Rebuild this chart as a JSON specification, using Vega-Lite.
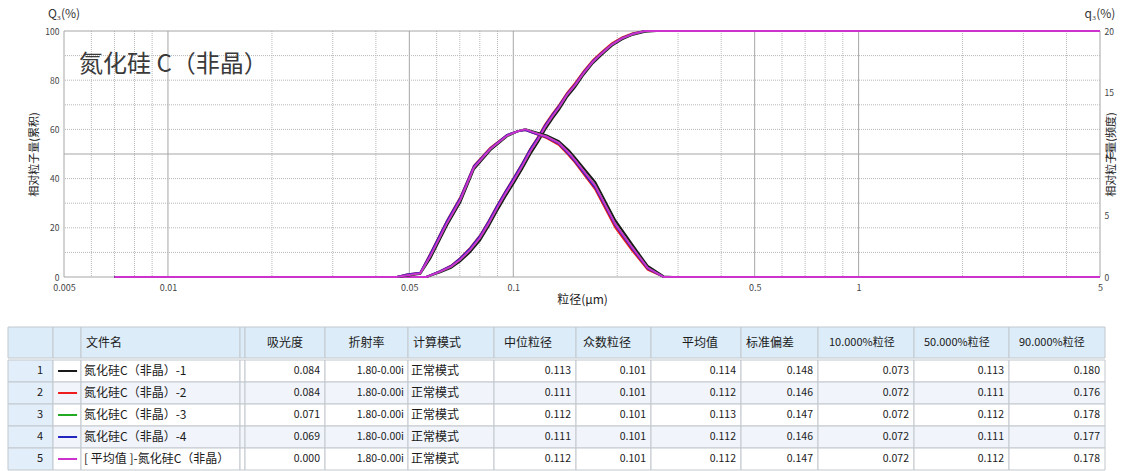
{
  "$schema": "https://vega.github.io/schema/vega-lite/v6.json",
  "background": "white",
  "padding": {"left": 7, "top": 8, "right": 0, "bottom": 0},
  "config": {
    "view": {"stroke": null},
    "legend": {"disable": true},
    "font": "Noto Sans CJK SC"
  },
  "datasets": {
    "vgrid": [
      {"d": 0.005, "k": "solid"}, {"d": 0.006, "k": "dot"}, {"d": 0.007, "k": "dot"}, {"d": 0.008, "k": "dot"}, {"d": 0.009, "k": "dot"},
      {"d": 0.01, "k": "solid"}, {"d": 0.02, "k": "dot"}, {"d": 0.03, "k": "dot"}, {"d": 0.04, "k": "dot"},
      {"d": 0.05, "k": "solid"}, {"d": 0.06, "k": "dot"}, {"d": 0.07, "k": "dot"}, {"d": 0.08, "k": "dot"}, {"d": 0.09, "k": "dot"},
      {"d": 0.1, "k": "solid"}, {"d": 0.2, "k": "dot"}, {"d": 0.3, "k": "dot"}, {"d": 0.4, "k": "dot"},
      {"d": 0.5, "k": "solid"}, {"d": 0.6, "k": "dot"}, {"d": 0.7, "k": "dot"}, {"d": 0.8, "k": "dot"}, {"d": 0.9, "k": "dot"},
      {"d": 1, "k": "solid"}, {"d": 2, "k": "dot"}, {"d": 3, "k": "dot"}, {"d": 4, "k": "dot"},
      {"d": 5, "k": "solid"}
    ],
    "hgrid": [
      {"value": 0, "k": "solid"}, {"value": 10, "k": "dot"}, {"value": 20, "k": "dot"}, {"value": 30, "k": "dot"}, {"value": 40, "k": "dot"},
      {"value": 50, "k": "solid"}, {"value": 60, "k": "dot"}, {"value": 70, "k": "dot"}, {"value": 80, "k": "dot"}, {"value": 90, "k": "dot"},
      {"value": 100, "k": "solid"}
    ],
    "labels": [
      {"t": "氮化硅 C（非晶）"}
    ],
    "cum": [
      {"d": 0.007, "s1": 0, "s2": 0, "s3": 0, "s4": 0, "s5": 0},
      {"d": 0.056, "s1": 0, "s2": 0, "s3": 0, "s4": 0, "s5": 0},
      {"d": 0.0614, "s1": 1.9, "s2": 2.4, "s3": 2.2, "s4": 2.4, "s5": 2.2},
      {"d": 0.066, "s1": 3.7, "s2": 4.6, "s3": 4.2, "s4": 4.5, "s5": 4.2},
      {"d": 0.0701, "s1": 6.3, "s2": 7.6, "s3": 7.0, "s4": 7.5, "s5": 7.0},
      {"d": 0.075, "s1": 10.1, "s2": 11.8, "s3": 11.0, "s4": 11.6, "s5": 11.0},
      {"d": 0.0801, "s1": 14.9, "s2": 16.9, "s3": 16.0, "s4": 16.7, "s5": 16.0},
      {"d": 0.085, "s1": 20.8, "s2": 23.0, "s3": 22.0, "s4": 22.8, "s5": 22.0},
      {"d": 0.0897, "s1": 26.8, "s2": 29.0, "s3": 28.0, "s4": 28.8, "s5": 28.0},
      {"d": 0.095, "s1": 32.8, "s2": 35.0, "s3": 34.0, "s4": 34.8, "s5": 34.0},
      {"d": 0.1005, "s1": 38.3, "s2": 40.5, "s3": 39.5, "s4": 40.3, "s5": 39.5},
      {"d": 0.106, "s1": 43.8, "s2": 46.0, "s3": 45.0, "s4": 45.8, "s5": 45.0},
      {"d": 0.1119, "s1": 49.8, "s2": 52.0, "s3": 51.0, "s4": 51.8, "s5": 51.0},
      {"d": 0.118, "s1": 54.9, "s2": 57.0, "s3": 56.0, "s4": 56.7, "s5": 56.0},
      {"d": 0.1236, "s1": 59.9, "s2": 62.0, "s3": 61.0, "s4": 61.6, "s5": 61.0},
      {"d": 0.13, "s1": 64.5, "s2": 66.4, "s3": 65.5, "s4": 66.0, "s5": 65.5},
      {"d": 0.1357, "s1": 68.0, "s2": 69.9, "s3": 69.0, "s4": 69.5, "s5": 69.0},
      {"d": 0.143, "s1": 73.1, "s2": 74.8, "s3": 74.0, "s4": 74.4, "s5": 74.0},
      {"d": 0.151, "s1": 77.2, "s2": 78.8, "s3": 78.0, "s4": 78.3, "s5": 78.0},
      {"d": 0.16, "s1": 82.3, "s2": 83.7, "s3": 83.0, "s4": 83.3, "s5": 83.0},
      {"d": 0.17, "s1": 86.9, "s2": 88.1, "s3": 87.5, "s4": 87.7, "s5": 87.5},
      {"d": 0.1807, "s1": 90.4, "s2": 91.6, "s3": 91.0, "s4": 91.2, "s5": 91.0},
      {"d": 0.193, "s1": 94.0, "s2": 95.0, "s3": 94.5, "s4": 94.6, "s5": 94.5},
      {"d": 0.2065, "s1": 96.6, "s2": 97.4, "s3": 97.0, "s4": 97.1, "s5": 97.0},
      {"d": 0.222, "s1": 98.5, "s2": 99.1, "s3": 98.8, "s4": 98.9, "s5": 98.8},
      {"d": 0.2407, "s1": 99.7, "s2": 100, "s3": 100, "s4": 100, "s5": 100},
      {"d": 0.26, "s1": 100, "s2": 100, "s3": 100, "s4": 100, "s5": 100},
      {"d": 5, "s1": 100, "s2": 100, "s3": 100, "s4": 100, "s5": 100}
    ],
    "freq": [
      {"d": 0.007, "s1": 0, "s2": 0, "s3": 0, "s4": 0, "s5": 0},
      {"d": 0.046, "s1": 0, "s2": 0, "s3": 0, "s4": 0, "s5": 0},
      {"d": 0.0492, "s1": 0.1, "s2": 0.2, "s3": 0.15, "s4": 0.2, "s5": 0.15},
      {"d": 0.0538, "s1": 0.25, "s2": 0.35, "s3": 0.3, "s4": 0.35, "s5": 0.3},
      {"d": 0.0575, "s1": 1.5, "s2": 1.9, "s3": 1.7, "s4": 1.85, "s5": 1.7},
      {"d": 0.0643, "s1": 4.2, "s2": 4.6, "s3": 4.4, "s4": 4.55, "s5": 4.4},
      {"d": 0.0703, "s1": 6.1, "s2": 6.5, "s3": 6.3, "s4": 6.45, "s5": 6.3},
      {"d": 0.0769, "s1": 8.75, "s2": 9.05, "s3": 8.9, "s4": 9.0, "s5": 8.9},
      {"d": 0.0858, "s1": 10.3, "s2": 10.5, "s3": 10.4, "s4": 10.45, "s5": 10.4},
      {"d": 0.096, "s1": 11.45, "s2": 11.55, "s3": 11.5, "s4": 11.55, "s5": 11.5},
      {"d": 0.103, "s1": 11.85, "s2": 11.85, "s3": 11.85, "s4": 11.85, "s5": 11.85},
      {"d": 0.1084, "s1": 12.0, "s2": 11.95, "s3": 12.0, "s4": 11.95, "s5": 12.0},
      {"d": 0.1134, "s1": 11.85, "s2": 11.75, "s3": 11.8, "s4": 11.75, "s5": 11.8},
      {"d": 0.125, "s1": 11.5, "s2": 11.3, "s3": 11.4, "s4": 11.35, "s5": 11.4},
      {"d": 0.1354, "s1": 11.05, "s2": 10.75, "s3": 10.9, "s4": 10.85, "s5": 10.9},
      {"d": 0.1447, "s1": 10.3, "s2": 9.9, "s3": 10.1, "s4": 10.0, "s5": 10.1},
      {"d": 0.151, "s1": 9.7, "s2": 9.3, "s3": 9.5, "s4": 9.4, "s5": 9.5},
      {"d": 0.1729, "s1": 7.7, "s2": 7.1, "s3": 7.4, "s4": 7.25, "s5": 7.4},
      {"d": 0.1975, "s1": 4.6, "s2": 4.0, "s3": 4.3, "s4": 4.2, "s5": 4.3},
      {"d": 0.221, "s1": 2.65, "s2": 2.15, "s3": 2.4, "s4": 2.3, "s5": 2.4},
      {"d": 0.245, "s1": 0.9, "s2": 0.6, "s3": 0.75, "s4": 0.7, "s5": 0.75},
      {"d": 0.2727, "s1": 0.05, "s2": 0, "s3": 0, "s4": 0, "s5": 0},
      {"d": 0.29, "s1": 0, "s2": 0, "s3": 0, "s4": 0, "s5": 0},
      {"d": 5, "s1": 0, "s2": 0, "s3": 0, "s4": 0, "s5": 0}
    ],
    "table": [
      {"no": "1", "series": "s1", "name": "氮化硅C（非晶）-1", "abs": 0.084, "ri": "1.80-0.00i", "calc": "正常模式", "median": 0.113, "modal": 0.101, "mean": 0.114, "sd": 0.148, "d10": 0.073, "d50": 0.113, "d90": 0.180},
      {"no": "2", "series": "s2", "name": "氮化硅C（非晶）-2", "abs": 0.084, "ri": "1.80-0.00i", "calc": "正常模式", "median": 0.111, "modal": 0.101, "mean": 0.112, "sd": 0.146, "d10": 0.072, "d50": 0.111, "d90": 0.176},
      {"no": "3", "series": "s3", "name": "氮化硅C（非晶）-3", "abs": 0.071, "ri": "1.80-0.00i", "calc": "正常模式", "median": 0.112, "modal": 0.101, "mean": 0.113, "sd": 0.147, "d10": 0.072, "d50": 0.112, "d90": 0.178},
      {"no": "4", "series": "s4", "name": "氮化硅C（非晶）-4", "abs": 0.069, "ri": "1.80-0.00i", "calc": "正常模式", "median": 0.111, "modal": 0.101, "mean": 0.112, "sd": 0.146, "d10": 0.072, "d50": 0.111, "d90": 0.177},
      {"no": "5", "series": "s5", "name": "[ 平均值 ]-氮化硅C（非晶）", "abs": 0.000, "ri": "1.80-0.00i", "calc": "正常模式", "median": 0.112, "modal": 0.101, "mean": 0.112, "sd": 0.147, "d10": 0.072, "d50": 0.112, "d90": 0.178}
    ]
  },
  "concat": [
    {
      "hconcat": [
        {"width": 20, "height": 10, "data": {"values": [{}]}, "mark": {"type": "text", "text": ""}},
        {
          "width": 1036,
          "height": 246,
          "layer": [
            {
              "data": {"name": "vgrid"},
              "mark": {"type": "rule", "strokeWidth": 1},
              "encoding": {
                "x": {"field": "d", "type": "quantitative", "scale": {"type": "log", "domain": [0.005, 5], "nice": false}},
                "stroke": {"field": "k", "type": "nominal", "scale": {"domain": ["solid", "dot"], "range": ["#a6a6a6", "#b8b8b8"]}, "legend": null},
                "strokeDash": {"field": "k", "type": "nominal", "scale": {"domain": ["solid", "dot"], "range": [[1, 0], [1, 1]]}, "legend": null}
              }
            },
            {
              "data": {"name": "hgrid"},
              "mark": {"type": "rule", "strokeWidth": 1},
              "encoding": {
                "y": {
                  "field": "value", "type": "quantitative",
                  "scale": {"domain": [0, 100], "nice": false},
                  "axis": {"orient": "left", "values": [0, 20, 40, 60, 80, 100], "title": "相对粒子量(累积)", "grid": false, "ticks": false, "domain": false, "labelFlush": false, "labelFontSize": 8.5, "labelColor": "#444", "labelPadding": 5, "titleFontSize": 11, "titleFontWeight": "normal", "titleColor": "#222", "titlePadding": 5}
                },
                "stroke": {"field": "k", "type": "nominal", "scale": {"domain": ["solid", "dot"], "range": ["#a6a6a6", "#b8b8b8"]}, "legend": null},
                "strokeDash": {"field": "k", "type": "nominal", "scale": {"domain": ["solid", "dot"], "range": [[1, 0], [1, 1]]}, "legend": null}
              }
            },
            {
              "data": {"name": "cum"},
              "transform": [{"fold": ["s1", "s2", "s3", "s4", "s5"], "as": ["series", "value"]}],
              "mark": {"type": "line", "strokeWidth": 2},
              "encoding": {
                "x": {
                  "field": "d", "type": "quantitative",
                  "scale": {"type": "log", "domain": [0.005, 5], "nice": false},
                  "axis": {"values": [0.005, 0.01, 0.05, 0.1, 0.5, 1, 5], "format": "~g", "title": "粒径(μm)", "grid": false, "ticks": false, "domain": false, "labelFlush": false, "labelFontSize": 9, "labelColor": "#444", "labelPadding": 6, "titleFontSize": 12, "titleFontWeight": "normal", "titleColor": "#222", "titlePadding": 2}
                },
                "y": {"field": "value", "type": "quantitative", "scale": {"domain": [0, 100], "nice": false}, "axis": null},
                "color": {"field": "series", "type": "nominal", "scale": {"domain": ["s1", "s2", "s3", "s4", "s5"], "range": ["#1a1a1a", "#ee1c1c", "#22aa22", "#2424c0", "#cc33cc"]}, "legend": null}
              }
            },
            {
              "data": {"name": "freq"},
              "transform": [{"fold": ["s1", "s2", "s3", "s4", "s5"], "as": ["series", "value"]}],
              "mark": {"type": "line", "strokeWidth": 2},
              "encoding": {
                "x": {"field": "d", "type": "quantitative", "scale": {"type": "log", "domain": [0.005, 5], "nice": false}},
                "y": {
                  "field": "value", "type": "quantitative",
                  "scale": {"domain": [0, 20], "nice": false},
                  "axis": {"orient": "right", "values": [0, 5, 10, 15, 20], "title": "相对粒子量(频度)", "grid": false, "ticks": false, "domain": false, "labelFlush": false, "labelFontSize": 8.5, "labelColor": "#444", "labelPadding": 4, "titleFontSize": 11, "titleFontWeight": "normal", "titleColor": "#222", "titlePadding": 3, "titleAngle": 270}
                },
                "color": {"field": "series", "type": "nominal", "scale": {"domain": ["s1", "s2", "s3", "s4", "s5"], "range": ["#1a1a1a", "#ee1c1c", "#22aa22", "#2424c0", "#cc33cc"]}, "legend": null}
              }
            },
            {
              "data": {"name": "labels"},
              "mark": {"type": "text", "align": "left", "baseline": "middle", "fontSize": 24, "color": "#3a3a3a"},
              "encoding": {
                "x": {"datum": 0.00553, "type": "quantitative", "scale": {"type": "log", "domain": [0.005, 5], "nice": false}},
                "y": {"datum": 86, "type": "quantitative", "scale": {"domain": [0, 100], "nice": false}, "axis": null},
                "text": {"field": "t"}
              }
            },
            {
              "data": {"name": "labels"},
              "mark": {"type": "text", "text": "Q₃(%)", "align": "center", "baseline": "middle", "dy": -17, "fontSize": 12, "color": "#333"},
              "encoding": {
                "x": {"datum": 0.005, "type": "quantitative", "scale": {"type": "log", "domain": [0.005, 5], "nice": false}},
                "y": {"datum": 100, "type": "quantitative", "scale": {"domain": [0, 100], "nice": false}, "axis": null}
              }
            },
            {
              "data": {"name": "labels"},
              "mark": {"type": "text", "text": "q₃(%)", "align": "center", "baseline": "middle", "dy": -17, "fontSize": 12, "color": "#333"},
              "encoding": {
                "x": {"datum": 5, "type": "quantitative", "scale": {"type": "log", "domain": [0.005, 5], "nice": false}},
                "y": {"datum": 100, "type": "quantitative", "scale": {"domain": [0, 100], "nice": false}, "axis": null}
              }
            }
          ],
          "resolve": {"scale": {"y": "independent"}}
        }
      ],
      "spacing": 0,
      "resolve": {"scale": {"x": "independent", "y": "independent"}}
    },
    {
      "vconcat": [
        {
          "hconcat": [
            {"width": 45, "height": 31, "data": {"values": [{}]}, "mark": {"type": "rect", "fill": "#dcecf8", "stroke": "#c2c8ce"}, "encoding": {"x": {"datum": 0, "scale": {"domain": [0, 1], "nice": false}, "axis": null}, "x2": {"datum": 1}, "y": {"datum": 0, "scale": {"domain": [0, 1], "nice": false}, "axis": null}, "y2": {"datum": 1}}},
            {"width": 28, "height": 31, "data": {"values": [{}]}, "mark": {"type": "rect", "fill": "#dcecf8", "stroke": "#c2c8ce"}, "encoding": {"x": {"datum": 0, "scale": {"domain": [0, 1], "nice": false}, "axis": null}, "x2": {"datum": 1}, "y": {"datum": 0, "scale": {"domain": [0, 1], "nice": false}, "axis": null}, "y2": {"datum": 1}}},
            {"width": 159, "height": 31, "data": {"values": [{"t": "文件名"}]}, "layer": [
              {"mark": {"type": "rect", "fill": "#dcecf8", "stroke": "#c2c8ce"}, "encoding": {"x": {"datum": 0, "scale": {"domain": [0, 1], "nice": false}, "axis": null}, "x2": {"datum": 1}, "y": {"datum": 0, "scale": {"domain": [0, 1], "nice": false}, "axis": null}, "y2": {"datum": 1}}},
              {"mark": {"type": "text", "align": "left", "dx": 5, "fontSize": 12, "color": "#1a1a1a"}, "encoding": {"x": {"datum": 0}, "y": {"datum": 0.5}, "text": {"field": "t"}}}
            ]},
            {"width": 5, "height": 31, "data": {"values": [{}]}, "mark": {"type": "rect", "fill": "#dcecf8", "stroke": "#c2c8ce"}, "encoding": {"x": {"datum": 0, "scale": {"domain": [0, 1], "nice": false}, "axis": null}, "x2": {"datum": 1}, "y": {"datum": 0, "scale": {"domain": [0, 1], "nice": false}, "axis": null}, "y2": {"datum": 1}}},
            {"width": 80, "height": 31, "data": {"values": [{"t": "吸光度"}]}, "layer": [
              {"mark": {"type": "rect", "fill": "#dcecf8", "stroke": "#c2c8ce"}, "encoding": {"x": {"datum": 0, "scale": {"domain": [0, 1], "nice": false}, "axis": null}, "x2": {"datum": 1}, "y": {"datum": 0, "scale": {"domain": [0, 1], "nice": false}, "axis": null}, "y2": {"datum": 1}}},
              {"mark": {"type": "text", "align": "center", "fontSize": 12, "color": "#1a1a1a"}, "encoding": {"x": {"datum": 0.5}, "y": {"datum": 0.5}, "text": {"field": "t"}}}
            ]},
            {"width": 83, "height": 31, "data": {"values": [{"t": "折射率"}]}, "layer": [
              {"mark": {"type": "rect", "fill": "#dcecf8", "stroke": "#c2c8ce"}, "encoding": {"x": {"datum": 0, "scale": {"domain": [0, 1], "nice": false}, "axis": null}, "x2": {"datum": 1}, "y": {"datum": 0, "scale": {"domain": [0, 1], "nice": false}, "axis": null}, "y2": {"datum": 1}}},
              {"mark": {"type": "text", "align": "center", "fontSize": 12, "color": "#1a1a1a"}, "encoding": {"x": {"datum": 0.5}, "y": {"datum": 0.5}, "text": {"field": "t"}}}
            ]},
            {"width": 86, "height": 31, "data": {"values": [{"t": "计算模式"}]}, "layer": [
              {"mark": {"type": "rect", "fill": "#dcecf8", "stroke": "#c2c8ce"}, "encoding": {"x": {"datum": 0, "scale": {"domain": [0, 1], "nice": false}, "axis": null}, "x2": {"datum": 1}, "y": {"datum": 0, "scale": {"domain": [0, 1], "nice": false}, "axis": null}, "y2": {"datum": 1}}},
              {"mark": {"type": "text", "align": "left", "dx": 5, "fontSize": 12, "color": "#1a1a1a"}, "encoding": {"x": {"datum": 0}, "y": {"datum": 0.5}, "text": {"field": "t"}}}
            ]},
            {"width": 82, "height": 31, "data": {"values": [{"t": "中位粒径"}]}, "layer": [
              {"mark": {"type": "rect", "fill": "#dcecf8", "stroke": "#c2c8ce"}, "encoding": {"x": {"datum": 0, "scale": {"domain": [0, 1], "nice": false}, "axis": null}, "x2": {"datum": 1}, "y": {"datum": 0, "scale": {"domain": [0, 1], "nice": false}, "axis": null}, "y2": {"datum": 1}}},
              {"mark": {"type": "text", "align": "left", "dx": 10, "fontSize": 12, "color": "#1a1a1a"}, "encoding": {"x": {"datum": 0}, "y": {"datum": 0.5}, "text": {"field": "t"}}}
            ]},
            {"width": 75, "height": 31, "data": {"values": [{"t": "众数粒径"}]}, "layer": [
              {"mark": {"type": "rect", "fill": "#dcecf8", "stroke": "#c2c8ce"}, "encoding": {"x": {"datum": 0, "scale": {"domain": [0, 1], "nice": false}, "axis": null}, "x2": {"datum": 1}, "y": {"datum": 0, "scale": {"domain": [0, 1], "nice": false}, "axis": null}, "y2": {"datum": 1}}},
              {"mark": {"type": "text", "align": "left", "dx": 7, "fontSize": 12, "color": "#1a1a1a"}, "encoding": {"x": {"datum": 0}, "y": {"datum": 0.5}, "text": {"field": "t"}}}
            ]},
            {"width": 90, "height": 31, "data": {"values": [{"t": "平均值"}]}, "layer": [
              {"mark": {"type": "rect", "fill": "#dcecf8", "stroke": "#c2c8ce"}, "encoding": {"x": {"datum": 0, "scale": {"domain": [0, 1], "nice": false}, "axis": null}, "x2": {"datum": 1}, "y": {"datum": 0, "scale": {"domain": [0, 1], "nice": false}, "axis": null}, "y2": {"datum": 1}}},
              {"mark": {"type": "text", "align": "center", "dx": 4, "fontSize": 12, "color": "#1a1a1a"}, "encoding": {"x": {"datum": 0.5}, "y": {"datum": 0.5}, "text": {"field": "t"}}}
            ]},
            {"width": 77, "height": 31, "data": {"values": [{"t": "标准偏差"}]}, "layer": [
              {"mark": {"type": "rect", "fill": "#dcecf8", "stroke": "#c2c8ce"}, "encoding": {"x": {"datum": 0, "scale": {"domain": [0, 1], "nice": false}, "axis": null}, "x2": {"datum": 1}, "y": {"datum": 0, "scale": {"domain": [0, 1], "nice": false}, "axis": null}, "y2": {"datum": 1}}},
              {"mark": {"type": "text", "align": "left", "dx": 5, "fontSize": 12, "color": "#1a1a1a"}, "encoding": {"x": {"datum": 0}, "y": {"datum": 0.5}, "text": {"field": "t"}}}
            ]},
            {"width": 96, "height": 31, "data": {"values": [{"t": "10.000%粒径"}]}, "layer": [
              {"mark": {"type": "rect", "fill": "#dcecf8", "stroke": "#c2c8ce"}, "encoding": {"x": {"datum": 0, "scale": {"domain": [0, 1], "nice": false}, "axis": null}, "x2": {"datum": 1}, "y": {"datum": 0, "scale": {"domain": [0, 1], "nice": false}, "axis": null}, "y2": {"datum": 1}}},
              {"mark": {"type": "text", "align": "left", "dx": 11, "fontSize": 11, "color": "#1a1a1a"}, "encoding": {"x": {"datum": 0}, "y": {"datum": 0.5}, "text": {"field": "t"}}}
            ]},
            {"width": 95, "height": 31, "data": {"values": [{"t": "50.000%粒径"}]}, "layer": [
              {"mark": {"type": "rect", "fill": "#dcecf8", "stroke": "#c2c8ce"}, "encoding": {"x": {"datum": 0, "scale": {"domain": [0, 1], "nice": false}, "axis": null}, "x2": {"datum": 1}, "y": {"datum": 0, "scale": {"domain": [0, 1], "nice": false}, "axis": null}, "y2": {"datum": 1}}},
              {"mark": {"type": "text", "align": "left", "dx": 10, "fontSize": 11, "color": "#1a1a1a"}, "encoding": {"x": {"datum": 0}, "y": {"datum": 0.5}, "text": {"field": "t"}}}
            ]},
            {"width": 96, "height": 31, "data": {"values": [{"t": "90.000%粒径"}]}, "layer": [
              {"mark": {"type": "rect", "fill": "#dcecf8", "stroke": "#c2c8ce"}, "encoding": {"x": {"datum": 0, "scale": {"domain": [0, 1], "nice": false}, "axis": null}, "x2": {"datum": 1}, "y": {"datum": 0, "scale": {"domain": [0, 1], "nice": false}, "axis": null}, "y2": {"datum": 1}}},
              {"mark": {"type": "text", "align": "left", "dx": 10, "fontSize": 11, "color": "#1a1a1a"}, "encoding": {"x": {"datum": 0}, "y": {"datum": 0.5}, "text": {"field": "t"}}}
            ]}
          ],
          "spacing": 0,
          "bounds": "flush",
          "resolve": {"scale": {"x": "independent", "y": "independent"}}
        },
        {
          "hconcat": [
            {"width": 45, "height": 110, "data": {"name": "table"}, "encoding": {"y": {"field": "no", "type": "ordinal", "axis": null, "scale": {"paddingInner": 0, "paddingOuter": 0}}}, "layer": [
              {"mark": {"type": "rect", "fill": "#e2eef9", "stroke": "#c2c8ce"}, "encoding": {"x": {"datum": 0, "scale": {"domain": [0, 1], "nice": false}, "axis": null}, "x2": {"datum": 1}}},
              {"mark": {"type": "text", "align": "right", "dx": -10, "fontSize": 11, "color": "#1a1a1a"}, "encoding": {"x": {"datum": 1}, "text": {"field": "no"}}}
            ]},
            {"width": 28, "height": 110, "data": {"name": "table"}, "encoding": {"y": {"field": "no", "type": "ordinal", "axis": null, "scale": {"paddingInner": 0, "paddingOuter": 0}}}, "layer": [
              {"mark": {"type": "rect", "stroke": "#c2c8ce"}, "encoding": {"x": {"datum": 0, "scale": {"domain": [0, 1], "nice": false}, "axis": null}, "x2": {"datum": 1}, "fill": {"field": "no", "type": "nominal", "scale": {"domain": ["1", "2", "3", "4", "5"], "range": ["#ffffff", "#f1f5fb", "#ffffff", "#f1f5fb", "#ffffff"]}, "legend": null}}},
              {"mark": {"type": "rule", "strokeWidth": 2}, "encoding": {"x": {"datum": 0.18}, "x2": {"datum": 0.86}, "color": {"field": "series", "type": "nominal", "scale": {"domain": ["s1", "s2", "s3", "s4", "s5"], "range": ["#1a1a1a", "#ee1c1c", "#22aa22", "#2424c0", "#cc33cc"]}, "legend": null}}}
            ]},
            {"width": 159, "height": 110, "data": {"name": "table"}, "encoding": {"y": {"field": "no", "type": "ordinal", "axis": null, "scale": {"paddingInner": 0, "paddingOuter": 0}}}, "layer": [
              {"mark": {"type": "rect", "stroke": "#c2c8ce"}, "encoding": {"x": {"datum": 0, "scale": {"domain": [0, 1], "nice": false}, "axis": null}, "x2": {"datum": 1}, "fill": {"field": "no", "type": "nominal", "scale": {"domain": ["1", "2", "3", "4", "5"], "range": ["#ffffff", "#f1f5fb", "#ffffff", "#f1f5fb", "#ffffff"]}, "legend": null}}},
              {"mark": {"type": "text", "align": "left", "dx": 3, "fontSize": 12, "color": "#1a1a1a"}, "encoding": {"x": {"datum": 0}, "text": {"field": "name"}}}
            ]},
            {"width": 5, "height": 110, "data": {"name": "table"}, "encoding": {"y": {"field": "no", "type": "ordinal", "axis": null, "scale": {"paddingInner": 0, "paddingOuter": 0}}}, "layer": [
              {"mark": {"type": "rect", "stroke": "#c2c8ce"}, "encoding": {"x": {"datum": 0, "scale": {"domain": [0, 1], "nice": false}, "axis": null}, "x2": {"datum": 1}, "fill": {"field": "no", "type": "nominal", "scale": {"domain": ["1", "2", "3", "4", "5"], "range": ["#ffffff", "#f1f5fb", "#ffffff", "#f1f5fb", "#ffffff"]}, "legend": null}}}
            ]},
            {"width": 80, "height": 110, "data": {"name": "table"}, "encoding": {"y": {"field": "no", "type": "ordinal", "axis": null, "scale": {"paddingInner": 0, "paddingOuter": 0}}}, "layer": [
              {"mark": {"type": "rect", "stroke": "#c2c8ce"}, "encoding": {"x": {"datum": 0, "scale": {"domain": [0, 1], "nice": false}, "axis": null}, "x2": {"datum": 1}, "fill": {"field": "no", "type": "nominal", "scale": {"domain": ["1", "2", "3", "4", "5"], "range": ["#ffffff", "#f1f5fb", "#ffffff", "#f1f5fb", "#ffffff"]}, "legend": null}}},
              {"mark": {"type": "text", "align": "right", "dx": -5, "fontSize": 10.5, "color": "#1a1a1a"}, "encoding": {"x": {"datum": 1}, "text": {"field": "abs", "type": "quantitative", "format": ".3f"}}}
            ]},
            {"width": 83, "height": 110, "data": {"name": "table"}, "encoding": {"y": {"field": "no", "type": "ordinal", "axis": null, "scale": {"paddingInner": 0, "paddingOuter": 0}}}, "layer": [
              {"mark": {"type": "rect", "stroke": "#c2c8ce"}, "encoding": {"x": {"datum": 0, "scale": {"domain": [0, 1], "nice": false}, "axis": null}, "x2": {"datum": 1}, "fill": {"field": "no", "type": "nominal", "scale": {"domain": ["1", "2", "3", "4", "5"], "range": ["#ffffff", "#f1f5fb", "#ffffff", "#f1f5fb", "#ffffff"]}, "legend": null}}},
              {"mark": {"type": "text", "align": "right", "dx": -4, "fontSize": 10.5, "color": "#1a1a1a"}, "encoding": {"x": {"datum": 1}, "text": {"field": "ri"}}}
            ]},
            {"width": 86, "height": 110, "data": {"name": "table"}, "encoding": {"y": {"field": "no", "type": "ordinal", "axis": null, "scale": {"paddingInner": 0, "paddingOuter": 0}}}, "layer": [
              {"mark": {"type": "rect", "stroke": "#c2c8ce"}, "encoding": {"x": {"datum": 0, "scale": {"domain": [0, 1], "nice": false}, "axis": null}, "x2": {"datum": 1}, "fill": {"field": "no", "type": "nominal", "scale": {"domain": ["1", "2", "3", "4", "5"], "range": ["#ffffff", "#f1f5fb", "#ffffff", "#f1f5fb", "#ffffff"]}, "legend": null}}},
              {"mark": {"type": "text", "align": "left", "dx": 3, "fontSize": 12, "color": "#1a1a1a"}, "encoding": {"x": {"datum": 0}, "text": {"field": "calc"}}}
            ]},
            {"width": 82, "height": 110, "data": {"name": "table"}, "encoding": {"y": {"field": "no", "type": "ordinal", "axis": null, "scale": {"paddingInner": 0, "paddingOuter": 0}}}, "layer": [
              {"mark": {"type": "rect", "stroke": "#c2c8ce"}, "encoding": {"x": {"datum": 0, "scale": {"domain": [0, 1], "nice": false}, "axis": null}, "x2": {"datum": 1}, "fill": {"field": "no", "type": "nominal", "scale": {"domain": ["1", "2", "3", "4", "5"], "range": ["#ffffff", "#f1f5fb", "#ffffff", "#f1f5fb", "#ffffff"]}, "legend": null}}},
              {"mark": {"type": "text", "align": "right", "dx": -5, "fontSize": 10.5, "color": "#1a1a1a"}, "encoding": {"x": {"datum": 1}, "text": {"field": "median", "type": "quantitative", "format": ".3f"}}}
            ]},
            {"width": 75, "height": 110, "data": {"name": "table"}, "encoding": {"y": {"field": "no", "type": "ordinal", "axis": null, "scale": {"paddingInner": 0, "paddingOuter": 0}}}, "layer": [
              {"mark": {"type": "rect", "stroke": "#c2c8ce"}, "encoding": {"x": {"datum": 0, "scale": {"domain": [0, 1], "nice": false}, "axis": null}, "x2": {"datum": 1}, "fill": {"field": "no", "type": "nominal", "scale": {"domain": ["1", "2", "3", "4", "5"], "range": ["#ffffff", "#f1f5fb", "#ffffff", "#f1f5fb", "#ffffff"]}, "legend": null}}},
              {"mark": {"type": "text", "align": "right", "dx": -5, "fontSize": 10.5, "color": "#1a1a1a"}, "encoding": {"x": {"datum": 1}, "text": {"field": "modal", "type": "quantitative", "format": ".3f"}}}
            ]},
            {"width": 90, "height": 110, "data": {"name": "table"}, "encoding": {"y": {"field": "no", "type": "ordinal", "axis": null, "scale": {"paddingInner": 0, "paddingOuter": 0}}}, "layer": [
              {"mark": {"type": "rect", "stroke": "#c2c8ce"}, "encoding": {"x": {"datum": 0, "scale": {"domain": [0, 1], "nice": false}, "axis": null}, "x2": {"datum": 1}, "fill": {"field": "no", "type": "nominal", "scale": {"domain": ["1", "2", "3", "4", "5"], "range": ["#ffffff", "#f1f5fb", "#ffffff", "#f1f5fb", "#ffffff"]}, "legend": null}}},
              {"mark": {"type": "text", "align": "right", "dx": -5, "fontSize": 10.5, "color": "#1a1a1a"}, "encoding": {"x": {"datum": 1}, "text": {"field": "mean", "type": "quantitative", "format": ".3f"}}}
            ]},
            {"width": 77, "height": 110, "data": {"name": "table"}, "encoding": {"y": {"field": "no", "type": "ordinal", "axis": null, "scale": {"paddingInner": 0, "paddingOuter": 0}}}, "layer": [
              {"mark": {"type": "rect", "stroke": "#c2c8ce"}, "encoding": {"x": {"datum": 0, "scale": {"domain": [0, 1], "nice": false}, "axis": null}, "x2": {"datum": 1}, "fill": {"field": "no", "type": "nominal", "scale": {"domain": ["1", "2", "3", "4", "5"], "range": ["#ffffff", "#f1f5fb", "#ffffff", "#f1f5fb", "#ffffff"]}, "legend": null}}},
              {"mark": {"type": "text", "align": "right", "dx": -5, "fontSize": 10.5, "color": "#1a1a1a"}, "encoding": {"x": {"datum": 1}, "text": {"field": "sd", "type": "quantitative", "format": ".3f"}}}
            ]},
            {"width": 96, "height": 110, "data": {"name": "table"}, "encoding": {"y": {"field": "no", "type": "ordinal", "axis": null, "scale": {"paddingInner": 0, "paddingOuter": 0}}}, "layer": [
              {"mark": {"type": "rect", "stroke": "#c2c8ce"}, "encoding": {"x": {"datum": 0, "scale": {"domain": [0, 1], "nice": false}, "axis": null}, "x2": {"datum": 1}, "fill": {"field": "no", "type": "nominal", "scale": {"domain": ["1", "2", "3", "4", "5"], "range": ["#ffffff", "#f1f5fb", "#ffffff", "#f1f5fb", "#ffffff"]}, "legend": null}}},
              {"mark": {"type": "text", "align": "right", "dx": -5, "fontSize": 10.5, "color": "#1a1a1a"}, "encoding": {"x": {"datum": 1}, "text": {"field": "d10", "type": "quantitative", "format": ".3f"}}}
            ]},
            {"width": 95, "height": 110, "data": {"name": "table"}, "encoding": {"y": {"field": "no", "type": "ordinal", "axis": null, "scale": {"paddingInner": 0, "paddingOuter": 0}}}, "layer": [
              {"mark": {"type": "rect", "stroke": "#c2c8ce"}, "encoding": {"x": {"datum": 0, "scale": {"domain": [0, 1], "nice": false}, "axis": null}, "x2": {"datum": 1}, "fill": {"field": "no", "type": "nominal", "scale": {"domain": ["1", "2", "3", "4", "5"], "range": ["#ffffff", "#f1f5fb", "#ffffff", "#f1f5fb", "#ffffff"]}, "legend": null}}},
              {"mark": {"type": "text", "align": "right", "dx": -5, "fontSize": 10.5, "color": "#1a1a1a"}, "encoding": {"x": {"datum": 1}, "text": {"field": "d50", "type": "quantitative", "format": ".3f"}}}
            ]},
            {"width": 96, "height": 110, "data": {"name": "table"}, "encoding": {"y": {"field": "no", "type": "ordinal", "axis": null, "scale": {"paddingInner": 0, "paddingOuter": 0}}}, "layer": [
              {"mark": {"type": "rect", "stroke": "#c2c8ce"}, "encoding": {"x": {"datum": 0, "scale": {"domain": [0, 1], "nice": false}, "axis": null}, "x2": {"datum": 1}, "fill": {"field": "no", "type": "nominal", "scale": {"domain": ["1", "2", "3", "4", "5"], "range": ["#ffffff", "#f1f5fb", "#ffffff", "#f1f5fb", "#ffffff"]}, "legend": null}}},
              {"mark": {"type": "text", "align": "right", "dx": -5, "fontSize": 10.5, "color": "#1a1a1a"}, "encoding": {"x": {"datum": 1}, "text": {"field": "d90", "type": "quantitative", "format": ".3f"}}}
            ]}
          ],
          "spacing": 0,
          "bounds": "flush",
          "resolve": {"scale": {"x": "independent", "y": "independent"}}
        }
      ],
      "spacing": 0,
      "resolve": {"scale": {"x": "independent", "y": "independent"}}
    }
  ],
  "columns": 1,
  "align": "none",
  "spacing": 21,
  "resolve": {"scale": {"x": "independent", "y": "independent"}}
}
